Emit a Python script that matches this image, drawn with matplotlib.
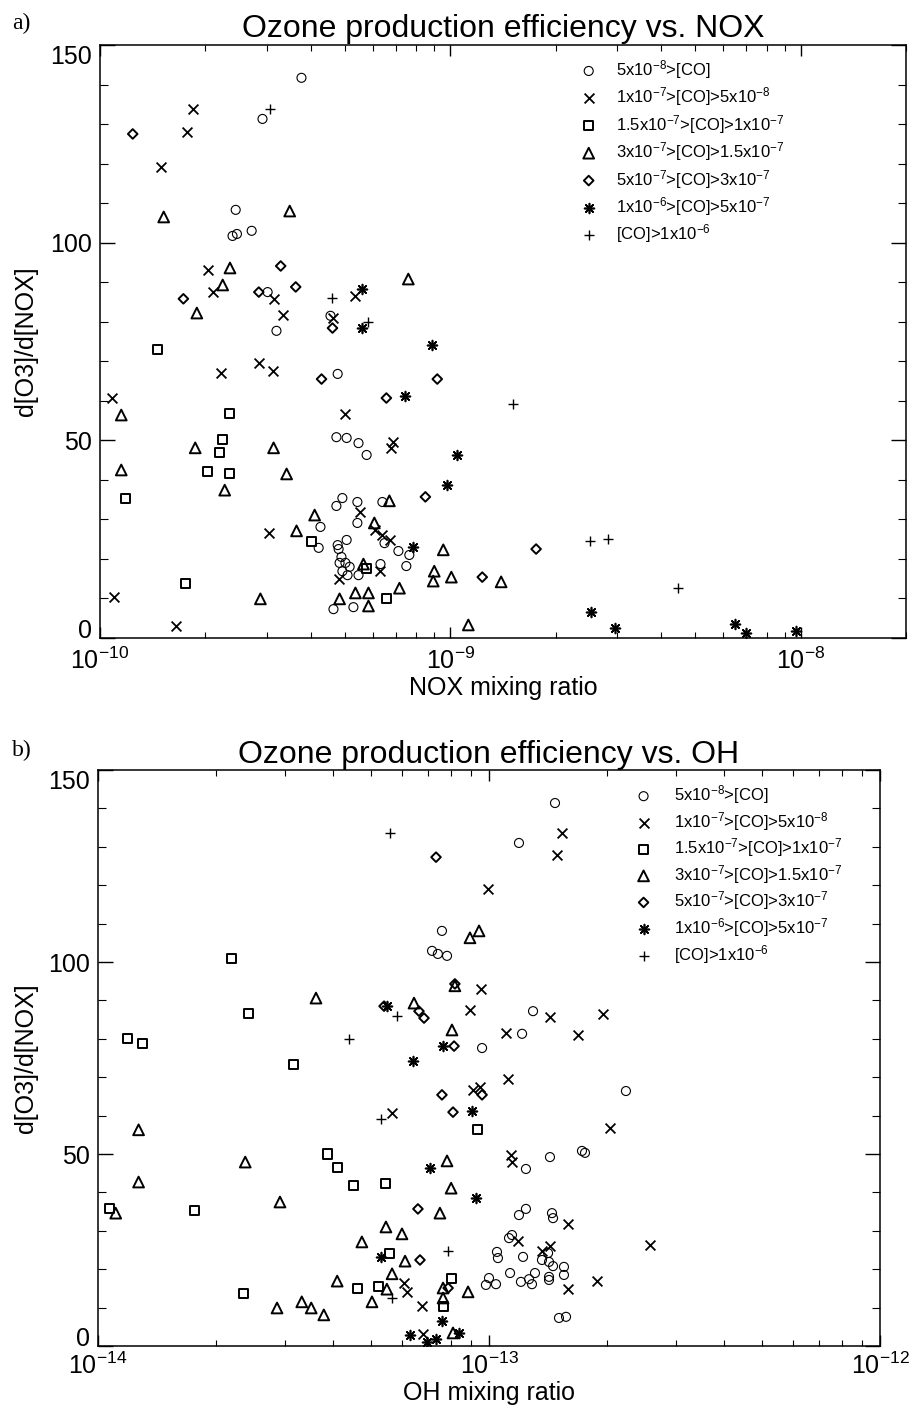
import numpy as np
import matplotlib
matplotlib.use('Agg')
import matplotlib.pyplot as plt
from matplotlib.ticker import LogLocator, MultipleLocator, NullFormatter

plt.rcParams['font.family'] = ['Liberation Sans', 'DejaVu Sans']
plt.rcParams['mathtext.fontset'] = 'custom'
plt.rcParams['mathtext.rm'] = 'Liberation Sans'
plt.rcParams['mathtext.it'] = 'Liberation Sans:italic'
plt.rcParams['mathtext.default'] = 'regular'

co_labels = [r'5x10$^{-8}$>[CO]',
             r'1x10$^{-7}$>[CO]>5x10$^{-8}$',
             r'1.5x10$^{-7}$>[CO]>1x10$^{-7}$',
             r'3x10$^{-7}$>[CO]>1.5x10$^{-7}$',
             r'5x10$^{-7}$>[CO]>3x10$^{-7}$',
             r'1x10$^{-6}$>[CO]>5x10$^{-7}$',
             r'[CO]>1x10$^{-6}$']

# panel a: NOX mixing ratio (units of 1e-10) vs d[O3]/d[NOX]
a_x1 = [3.76, 2.91, 2.44, 2.39, 2.46, 2.71, 3.01, 3.19, 4.55, 4.77,
        4.73, 5.06, 5.47, 5.77, 4.92, 4.73, 5.43, 6.40, 5.43, 4.26,
        4.21, 5.06, 4.77, 4.80, 4.89, 4.83, 5.02, 5.16, 4.92, 5.47,
        5.09, 6.49, 7.11, 7.64, 7.49, 6.32, 4.64, 5.29]
a_y1 = [141.7, 131.3, 108.3, 101.7, 102.2, 103.0, 87.5, 77.7, 81.5, 66.8,
        50.8, 50.6, 49.3, 46.3, 35.4, 33.4, 34.4, 34.4, 29.1, 28.1,
        22.8, 24.8, 23.5, 22.5, 20.5, 19.0, 19.0, 18.0, 16.9, 15.9,
        15.9, 24.0, 22.0, 21.0, 18.2, 18.7, 7.3, 7.8]
a_x2 = [1.84, 1.77, 1.49, 2.04, 2.10, 3.13, 3.34, 4.64, 5.36, 1.08, 2.21, 2.84, 3.11,
        5.02, 6.88, 6.79, 5.54, 3.03, 6.11, 6.40, 6.75, 6.28, 4.80, 1.10, 1.65]
a_y2 = [133.8, 128.0, 119.2, 93.1, 87.5, 85.8, 81.7, 81.0, 86.5, 60.7, 67.0, 69.6, 67.5,
        56.7, 49.6, 48.1, 31.9, 26.6, 27.3, 26.1, 24.8, 16.9, 14.9, 10.4, 3.0]
a_x3 = [1.46, 2.35, 2.24, 2.20, 2.03, 2.35, 1.18, 4.02, 1.75, 5.77, 6.57]
a_y3 = [73.1, 56.7, 50.1, 46.8, 42.0, 41.7, 35.4, 24.3, 13.9, 17.7, 10.1]
a_x4 = [1.52, 3.48, 2.35, 2.24, 1.89, 7.59, 1.15, 1.87, 3.13, 1.15, 3.41, 2.27, 6.70, 4.10, 3.64,
        6.07, 5.65, 9.55, 9.0, 8.94, 10.07, 7.16, 4.83, 5.36, 5.84, 5.84, 2.87, 11.26, 13.97]
a_y4 = [106.5, 108.0, 93.6, 89.3, 82.2, 90.8, 56.4, 48.1, 48.1, 42.5, 41.5, 37.4, 34.7, 31.1, 27.1,
        29.1, 18.7, 22.3, 16.9, 14.4, 15.4, 12.6, 9.9, 11.4, 11.4, 8.1, 9.9, 3.3, 14.2]
a_x5 = [1.24, 1.73, 3.28, 2.84, 3.62, 4.61, 4.29, 6.57, 9.18, 8.49, 17.58, 12.34]
a_y5 = [127.5, 85.8, 94.1, 87.5, 88.8, 78.4, 65.5, 60.7, 65.5, 35.7, 22.5, 15.4]
a_x6 = [5.58, 5.58, 8.89, 7.44, 10.47, 9.80, 7.85, 25.2, 29.5, 64.9, 69.7, 96.8]
a_y6 = [88.3, 78.4, 74.1, 61.2, 46.3, 38.7, 23.0, 6.6, 2.5, 3.5, 1.3, 1.8]
a_x7 = [3.05, 4.61, 5.84, 15.12, 25.05, 28.2, 44.6]
a_y7 = [133.8, 86.0, 79.9, 59.2, 24.5, 25.0, 12.6]

# panel b: OH mixing ratio (units of 1e-14) vs d[O3]/d[NOX]
b_x1 = [14.75, 11.93, 7.58, 7.15, 7.40, 7.81, 12.96, 12.15, 9.60, 22.4,
        14.32, 17.29, 17.60, 12.43, 11.93, 12.43, 14.49, 14.58, 11.45, 11.25,
        10.48, 10.54, 12.22, 13.66, 14.16, 14.24, 14.58, 15.55, 15.55, 11.32,
        10.0, 9.82, 10.42, 13.11, 12.66, 12.88, 12.07, 14.24, 14.24, 15.10, 15.74]
b_y1 = [141.4, 131.0, 108.1, 102.9, 102.1, 101.6, 87.2, 81.3, 77.6, 66.4,
        49.2, 50.8, 50.3, 46.1, 34.1, 35.7, 34.6, 33.3, 28.9, 28.1,
        24.5, 22.9, 23.2, 22.4, 24.2, 21.9, 20.8, 20.6, 18.5, 19.0,
        17.7, 15.9, 16.1, 19.0, 17.4, 16.1, 16.7, 18.0, 17.2, 7.3, 7.6]
b_x2 = [15.37, 14.93, 9.94, 9.54, 8.94, 14.32, 19.56, 11.05, 16.89, 11.18, 9.10, 9.48, 20.39, 5.65,
        11.38, 11.45, 15.92, 11.86, 14.32, 13.66, 25.8, 18.89, 15.92, 6.06, 6.17, 6.74, 6.78]
b_y2 = [133.6, 127.9, 119.0, 93.0, 87.5, 85.7, 86.5, 81.5, 81.0, 69.5, 66.7, 67.4, 56.8, 60.7,
        49.7, 47.9, 31.8, 27.3, 26.0, 24.7, 26.3, 16.9, 14.8, 16.4, 14.1, 10.4, 3.1]
b_x3 = [2.20, 2.43, 1.19, 1.30, 3.17, 3.87, 4.09, 4.49, 5.45, 1.07, 1.77, 5.58, 2.35, 4.62,
        5.23, 8.00, 7.63, 9.32]
b_y3 = [100.8, 86.7, 80.2, 78.9, 73.2, 50.0, 46.6, 41.7, 42.2, 35.9, 35.4, 24.2, 13.8, 15.1,
        15.6, 17.7, 10.2, 56.5]
b_x4 = [3.61, 6.43, 8.04, 8.18, 8.94, 9.43, 1.27, 1.27, 1.11, 2.38, 2.92, 7.81, 8.00, 7.49, 5.45,
        5.99, 4.73, 6.10, 5.65, 4.09, 5.48, 5.02, 2.87, 3.32, 3.51, 3.78, 7.63, 7.63, 8.84, 8.09]
b_y4 = [90.6, 89.3, 82.3, 93.8, 106.3, 108.1, 56.3, 42.7, 34.6, 47.9, 37.5, 48.2, 41.1, 34.6, 31.0,
        29.2, 27.1, 22.1, 18.8, 16.9, 14.8, 11.5, 9.9, 11.5, 9.9, 8.1, 15.1, 12.5, 14.1, 3.4]
b_x5 = [7.32, 8.18, 6.62, 6.82, 5.39, 8.14, 7.58, 9.60, 8.09, 6.58, 6.66, 7.86]
b_y5 = [127.3, 94.3, 87.2, 85.4, 88.5, 78.1, 65.4, 65.4, 60.9, 35.7, 22.4, 15.1]
b_x6 = [5.48, 7.63, 6.39, 9.05, 7.07, 9.26, 5.29, 7.58, 6.28, 6.94, 7.32, 8.38]
b_y6 = [88.5, 78.1, 74.2, 61.2, 46.4, 38.5, 23.2, 6.5, 2.9, 1.0, 1.8, 3.4]
b_x7 = [5.58, 5.82, 4.39, 5.29, 7.86, 5.65]
b_y7 = [133.6, 85.9, 79.9, 59.1, 24.7, 12.5]

a_xticks = [1e-10, 1e-9, 1e-8]
b_xticks = [1e-14, 1e-13, 1e-12]

# marker, size, linewidth for each CO class
styles = [('o', 42, 0.8), ('x', 50, 1.3), ('s', 42, 1.4), ('^', 60, 1.4),
          ('D', 24, 1.4), ((8, 2, 0), 50, 1.2), ('+', 50, 1.0)]

fig = plt.figure(figsize=(9.11, 14.07), dpi=100)
ax_a = fig.add_axes([100/911, 1-638/1407, 806/911, 593/1407])
ax_b = fig.add_axes([98/911, 1-1346/1407, 782/911, 576/1407])

def draw(ax, xs, ys, scale):
    hs = []
    for (m, s, lw), x, y in zip(styles, xs, ys):
        if m in ('x', '+') or isinstance(m, tuple):
            h = ax.scatter(np.array(x)*scale, y, marker=m, s=s, c='k', linewidths=lw)
        else:
            h = ax.scatter(np.array(x)*scale, y, marker=m, s=s, facecolors='none',
                           edgecolors='k', linewidths=lw)
        hs.append(h)
    return hs

hs_a = draw(ax_a, [a_x1, a_x2, a_x3, a_x4, a_x5, a_x6, a_x7],
            [a_y1, a_y2, a_y3, a_y4, a_y5, a_y6, a_y7], 1e-10)
hs_b = draw(ax_b, [b_x1, b_x2, b_x3, b_x4, b_x5, b_x6, b_x7],
            [b_y1, b_y2, b_y3, b_y4, b_y5, b_y6, b_y7], 1e-14)

for ax, xpad, xt, xl in ((ax_a, 7, a_xticks, (1e-10, 2e-8)),
                         (ax_b, 5, b_xticks, (1e-14, 1e-12))):
    ax.set_xscale('log')
    ax.set_xticks(xt)
    ax.set_xlim(*xl)
    ax.set_ylim(0, 150)
    ax.xaxis.set_minor_locator(LogLocator(base=10, subs=np.arange(2, 10)))
    ax.xaxis.set_minor_formatter(NullFormatter())
    ax.set_yticks([0, 50, 100, 150])
    ax.yaxis.set_minor_locator(MultipleLocator(10))
    ax.tick_params(which='both', direction='in', top=True, right=True, labelsize=18)
    ax.tick_params(axis='x', which='major', length=8, width=1.0, pad=xpad)
    ax.tick_params(axis='x', which='minor', length=4.5, width=0.8)
    ax.tick_params(axis='y', which='major', length=11, width=1.0, pad=6)
    ax.tick_params(axis='y', which='minor', length=6, width=0.8)
    for sp in ax.spines.values():
        sp.set_linewidth(1.1)
    yt = ax.yaxis.get_major_ticks()
    yt[0].label1.set_va('baseline')
    yt[-1].label1.set_va('top')

ax_a.legend(hs_a, co_labels, loc='upper left', bbox_to_anchor=(0.596, 0.978),
            frameon=False, fontsize=12, handlelength=1.0, handletextpad=1.15,
            labelspacing=0.27, borderpad=0, borderaxespad=0, scatterpoints=1)
ax_b.legend(hs_b, co_labels, loc='upper left', bbox_to_anchor=(0.687, 0.977),
            frameon=False, fontsize=12, handlelength=1.0, handletextpad=1.33,
            labelspacing=0.22, borderpad=0, borderaxespad=0, scatterpoints=1)

W, H = 911, 1407
fig.text(12/W, 1-29/H, 'a)', family='Liberation Serif', fontsize=17, va='baseline')
fig.text(12/W, 1-756/H, 'b)', family='Liberation Serif', fontsize=17, va='baseline')
fig.text(503/W, 1-37/H, 'Ozone production efficiency vs. NOX', fontsize=23,
         ha='center', va='baseline')
fig.text(489/W, 1-763/H, 'Ozone production efficiency vs. OH', fontsize=23,
         ha='center', va='baseline')
fig.text(503/W, 1-695/H, 'NOX mixing ratio', fontsize=18, ha='center', va='baseline')
fig.text(489/W, 1-1400/H, 'OH mixing ratio', fontsize=18, ha='center', va='baseline')
fig.text(26/W, 1-341/H, 'd[O3]/d[NOX]', fontsize=18, rotation=90, ha='center', va='center')
fig.text(26/W, 1-1058/H, 'd[O3]/d[NOX]', fontsize=18, rotation=90, ha='center', va='center')

fig.savefig('out.png', dpi=100)
